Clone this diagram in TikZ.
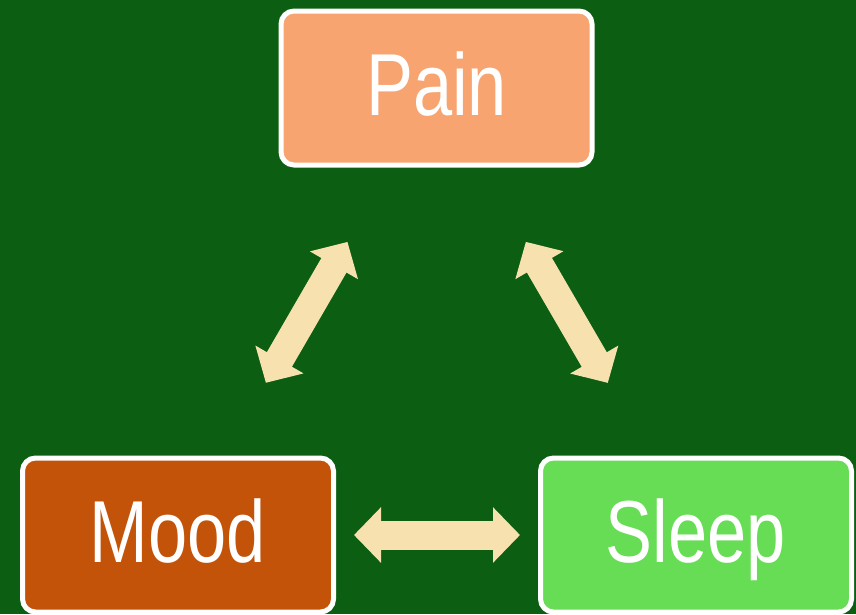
\documentclass[tikz,border=0pt]{standalone}
\usepackage{fontspec}
\newfontfamily\narrowsans[FakeStretch=0.8]{Liberation Sans}
\usetikzlibrary{arrows.meta}
\definecolor{bggreen}{RGB}{11,94,18}
\definecolor{painfill}{RGB}{247,164,112}
\definecolor{moodfill}{RGB}{196,83,10}
\definecolor{sleepfill}{RGB}{102,221,85}
\definecolor{arrowcream}{RGB}{247,225,175}
\tikzset{
  box/.style={draw=white, line width=5pt, rounded corners=13pt,
    minimum width=311pt, minimum height=154pt, inner sep=0pt,
    text=white, font=\narrowsans\fontsize{88}{88}\selectfont,
    text height=63pt, text depth=9pt},
  bigarrow/.style={draw=arrowcream, line width=29pt,
    {Triangle[width=54pt,length=27pt]}-{Triangle[width=54pt,length=27pt]}}
}
\begin{document}
\begin{tikzpicture}[x=1pt,y=-1pt]
  \fill[bggreen] (0,0) rectangle (856,614);
  \useasboundingbox (0,0) rectangle (856,614);
  \node[box, fill=painfill] (pain) at (436.5,88) {Pain};
  \node[box, fill=moodfill] (mood) at (178,535) {Mood};
  \node[box, fill=sleepfill] (sleep) at (696,535) {Sleep};
  \draw[bigarrow, shorten <=86pt, shorten >=84pt] (pain) -- (mood);
  \draw[bigarrow, shorten <=86pt, shorten >=84pt] (pain) -- (sleep);
  \draw[bigarrow, shorten <=18pt, shorten >=18pt] (mood) -- (sleep);
\end{tikzpicture}
\end{document}
